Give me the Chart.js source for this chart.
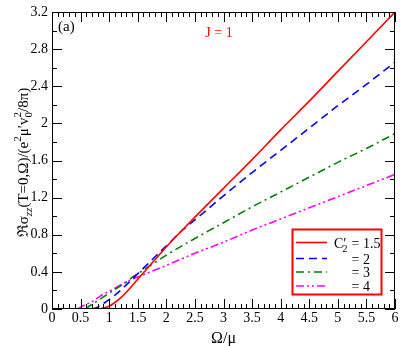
<!DOCTYPE html>
<html>
<head>
<meta charset="utf-8">
<script src="https://cdn.jsdelivr.net/npm/chart.js@4.4.0/dist/chart.umd.min.js"></script>
<style>
  html, body { margin: 0; padding: 0; background: #fff; }
  #wrap { width: 415px; height: 346px; }
</style>
</head>
<body>
<div id="wrap"><canvas id="myChart" width="415" height="346"></canvas></div>
<script>
// values
const omegaRed = [0.82, 0.9, 1.0, 1.1, 1.2, 1.3, 1.4, 1.5, 1.6, 1.7, 1.8, 1.9, 2.0, 2.2, 2.5, 3, 3.5, 4, 4.5, 5, 5.5, 6];
const sigmaRed = [0, 0.01, 0.03, 0.07, 0.12, 0.18, 0.25, 0.32, 0.39, 0.46, 0.53, 0.60, 0.67, 0.80, 0.99, 1.30, 1.61, 1.93, 2.24, 2.56, 2.88, 3.2];

const omegaBlue = [0.7, 0.8, 0.9, 1.0, 1.1, 1.2, 1.3, 1.4, 1.5, 1.6, 1.8, 2.0, 2.3, 2.5, 3, 3.5, 4, 4.5, 5, 5.5, 6];
const sigmaBlue = [0, 0.02, 0.06, 0.10, 0.15, 0.20, 0.26, 0.32, 0.38, 0.44, 0.56, 0.68, 0.86, 0.96, 1.22, 1.47, 1.71, 1.95, 2.19, 2.42, 2.66];

const omegaGreen = [0.58, 0.65, 0.7, 0.8, 0.9, 1.0, 1.1, 1.2, 1.3, 1.4, 1.5, 1.6, 1.8, 2.0, 2.5, 3, 3.5, 4, 4.5, 5, 5.5, 6];
const sigmaGreen = [0, 0.03, 0.05, 0.09, 0.13, 0.17, 0.21, 0.25, 0.29, 0.34, 0.38, 0.42, 0.50, 0.58, 0.76, 0.93, 1.10, 1.26, 1.42, 1.58, 1.73, 1.89];

const omegaMagenta = [0.45, 0.5, 0.6, 0.7, 0.8, 0.9, 1.0, 1.2, 1.4, 1.6, 1.8, 2.0, 2.5, 3, 3.5, 4, 4.5, 5, 5.5, 6];
const sigmaMagenta = [0, 0.02, 0.05, 0.08, 0.12, 0.16, 0.19, 0.26, 0.32, 0.37, 0.42, 0.47, 0.60, 0.72, 0.85, 0.97, 1.09, 1.21, 1.33, 1.45];

const legendLabels = ["= 1.5", "= 2", "= 3", "= 4"];
const xTicks = [0, 0.5, 1, 1.5, 2, 2.5, 3, 3.5, 4, 4.5, 5, 5.5, 6];
const yTicks = [0, 0.4, 0.8, 1.2, 1.6, 2, 2.4, 2.8, 3.2];

const SERIF = "'Liberation Serif', 'DejaVu Serif', serif";

function pts(xs, ys) {
  return xs.map((x, i) => ({ x: x, y: ys[i] }));
}

// frame, inward ticks on all four sides, labels and legend
const decorations = {
  id: "decorations",
  afterDatasetsDraw(chart) {
    const ctx = chart.ctx;
    const a = chart.chartArea;
    const xs = chart.scales.x;
    const ys = chart.scales.y;
    ctx.save();
    ctx.strokeStyle = "#000";
    ctx.lineWidth = 1;
    ctx.setLineDash([]);
    ctx.strokeRect(a.left + 0.5, a.top + 0.5, a.right - a.left - 1, a.bottom - a.top - 1);

    ctx.beginPath();
    for (let i = 0; i <= 60; i++) {
      const v = i / 10;
      const len = i % 5 === 0 ? 10 : 5;
      const px = Math.round(xs.getPixelForValue(v)) + 0.5;
      ctx.moveTo(px, a.bottom); ctx.lineTo(px, a.bottom - len);
      ctx.moveTo(px, a.top); ctx.lineTo(px, a.top + len);
    }
    for (let i = 0; i <= 16; i++) {
      const v = i * 0.2;
      const len = i % 2 === 0 ? 10 : 5;
      const py = Math.round(ys.getPixelForValue(v)) + 0.5;
      ctx.moveTo(a.left, py); ctx.lineTo(a.left + len, py);
      ctx.moveTo(a.right, py); ctx.lineTo(a.right - len, py);
    }
    ctx.stroke();

    // panel label and J = 1
    ctx.fillStyle = "#000";
    ctx.font = "15px " + SERIF;
    ctx.textAlign = "left";
    ctx.textBaseline = "alphabetic";
    ctx.fillText("(a)", 58, 31);
    ctx.fillStyle = "#ff0000";
    ctx.font = "14px " + SERIF;
    ctx.textAlign = "center";
    ctx.fillText("J = 1", 219, 37);

    // legend
    const lx = 292.5, ly = 229.5, lw = 89, lh = 65;
    ctx.strokeStyle = "#ff0000";
    ctx.lineWidth = 2;
    ctx.strokeRect(lx, ly, lw, lh);
    const rows = [242.5, 258.5, 272, 286];
    chart.data.datasets.forEach((ds, i) => {
      ctx.strokeStyle = ds.borderColor;
      ctx.lineWidth = ds.borderWidth;
      ctx.setLineDash(ds.borderDash || []);
      ctx.beginPath();
      ctx.moveTo(296, rows[i]);
      ctx.lineTo(327, rows[i]);
      ctx.stroke();
    });
    ctx.setLineDash([]);
    ctx.fillStyle = "#000";
    ctx.textAlign = "left";
    ctx.font = "14px " + SERIF;
    // C'_2 on the first row
    ctx.fillText("C\u2032", 334, rows[0] + 5);
    const cw = ctx.measureText("C\u2032").width;
    ctx.font = "10px " + SERIF;
    ctx.fillText("2", 334 + cw - 4, rows[0] + 9);
    ctx.font = "14px " + SERIF;
    legendLabels.forEach((t, i) => {
      ctx.fillText(t, 351.5, rows[i] + 5);
    });

    // x title
    ctx.font = "16px " + SERIF;
    ctx.textAlign = "center";
    ctx.fillText("\u03A9/\u03BC", (a.left + a.right) / 2, 343);

    // y title, rotated, with sub/superscripts
    const parts = [
      { t: "\u211C\u03C3", s: 15, dy: 0 },
      { t: "zz", s: 11, dy: 4, italic: true },
      { t: "(T=0,\u03A9)/(e", s: 15, dy: 0 },
      { t: "2", s: 11, dy: -7 },
      { t: "\u03BC\u2032v", s: 15, dy: 0 },
      { t: "0", s: 11, dy: 4, stackNext: true },
      { t: "2", s: 11, dy: -7 },
      { t: "/8\u03C0)", s: 15, dy: 0 }
    ];
    let total = 0;
    const widths = parts.map((p) => {
      ctx.font = (p.italic ? "italic " : "") + p.s + "px " + SERIF;
      return ctx.measureText(p.t).width;
    });
    parts.forEach((p, i) => { if (!p.stackNext) total += widths[i]; });
    ctx.translate(28, (a.top + a.bottom) / 2 + 2);
    ctx.rotate(-Math.PI / 2);
    ctx.textAlign = "left";
    let cx = -total / 2;
    parts.forEach((p, i) => {
      ctx.font = (p.italic ? "italic " : "") + p.s + "px " + SERIF;
      ctx.fillText(p.t, cx, p.dy);
      if (!p.stackNext) cx += widths[i];
    });
    ctx.restore();
  }
};

const ctx = document.getElementById("myChart").getContext("2d");
new Chart(ctx, {
  type: "scatter",
  data: {
    datasets: [
      { label: "1.5", data: pts(omegaRed, sigmaRed), borderColor: "#ff0000", borderWidth: 1.6, borderDash: [] },
      { label: "2", data: pts(omegaBlue, sigmaBlue), borderColor: "#0000ff", borderWidth: 1.6, borderDash: [8, 5] },
      { label: "3", data: pts(omegaGreen, sigmaGreen), borderColor: "#008000", borderWidth: 1.6, borderDash: [8, 4, 2, 4] },
      { label: "4", data: pts(omegaMagenta, sigmaMagenta), borderColor: "#ff00ff", borderWidth: 1.6, borderDash: [8, 3, 2, 3, 2, 3] }
    ].map((d) => Object.assign(d, {
      showLine: true,
      pointRadius: 0,
      fill: false,
      cubicInterpolationMode: "monotone"
    }))
  },
  options: {
    responsive: false,
    animation: false,
    devicePixelRatio: 1,
    layout: { padding: { left: 0, top: 12, right: 20, bottom: 0 } },
    plugins: { legend: { display: false }, tooltip: { enabled: false } },
    scales: {
      x: {
        type: "linear",
        min: 0,
        max: 6,
        grid: { display: false, drawTicks: false },
        border: { display: false },
        afterBuildTicks: (s) => { s.ticks = xTicks.map((v) => ({ value: v })); },
        ticks: {
          padding: 1,
          color: "#000",
          font: { family: SERIF, size: 14 },
          maxRotation: 0,
          autoSkip: false,
          callback: (v) => String(v)
        },
        afterFit: (s) => {
          s.height = 37;
          s.paddingLeft = 0; s.paddingRight = 0;
        }
      },
      y: {
        type: "linear",
        min: 0,
        max: 3.2,
        grid: { display: false, drawTicks: false },
        border: { display: false },
        afterBuildTicks: (s) => { s.ticks = yTicks.map((v) => ({ value: v })); },
        ticks: {
          padding: 4,
          color: "#000",
          font: { family: SERIF, size: 14 },
          autoSkip: false,
          callback: (v) => String(v)
        },
        afterFit: (s) => {
          s.width = 52;
          s.paddingTop = 0; s.paddingBottom = 0;
        }
      }
    }
  },
  plugins: [decorations]
});
</script>
</body>
</html>
